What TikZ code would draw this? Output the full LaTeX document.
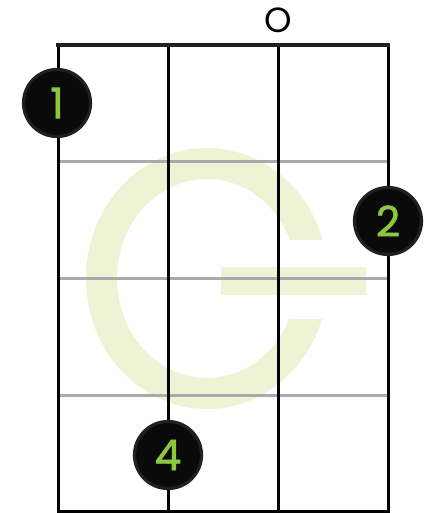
\documentclass[tikz,border=0pt]{standalone}
\usepackage{fontspec}
\usetikzlibrary{calc}
\newfontfamily\chordfont{Poppins}
\newfontfamily\fingerfont{Poppins}[FakeBold=1.6]
\definecolor{ringgray}{RGB}{35,31,32}
\definecolor{dotblack}{RGB}{10,10,10}
\definecolor{dotgreen}{RGB}{141,198,63}
\definecolor{fretgray}{RGB}{170,170,172}
\definecolor{gwater}{RGB}{239,243,214}
\begin{document}
\begin{tikzpicture}[x=1pt,y=-1pt, string/.style={line width=3pt,black}, fret/.style={line width=2.5pt,fretgray}, finger/.style={circle,draw=ringgray,line width=3.2pt,fill=dotblack,minimum size=67pt,inner sep=0pt,text=dotgreen,font=\fingerfont\fontsize{42}{42}\selectfont}]
\useasboundingbox[fill=white] (0,0) rectangle (434,513);
% chord name watermark
\coordinate (gc) at (207,278.5);
\fill[gwater] (gc) ++(-17.2:121 and 130.5) arc[start angle=-17.2,end angle=-341.9,x radius=121,y radius=130.5] -- ($(gc)+(24:90 and 99.5)$) arc[start angle=24,end angle=337.2,x radius=90,y radius=99.5] -- cycle;
\fill[gwater] (221,267) rectangle (366,295);
% frets
\draw[fret] (58,161.7) -- (388,161.7);
\draw[fret] (58,278.3) -- (388,278.3);
\draw[fret] (58,395.7) -- (388,395.7);
\draw[line width=3pt,black] (58,511.5) -- (388,511.5);
% strings
\draw[string] (58,44.7) -- (58,513);
\draw[string] (168,44.7) -- (168,513);
\draw[string] (278,44.7) -- (278,513);
\draw[string] (388,44.7) -- (388,513);
\draw[line width=4pt,ringgray] (56,44.7) -- (390,44.7);
% open string and fingers
\node[font=\chordfont\fontsize{35}{35}\selectfont,inner sep=0pt] (open) at (278,20) {O};
\node[finger] (f1) at (57,103) {1};
\node[finger] (f2) at (388,221) {2};
\node[finger] (f4) at (168,455) {4};
\end{tikzpicture}
\end{document}
